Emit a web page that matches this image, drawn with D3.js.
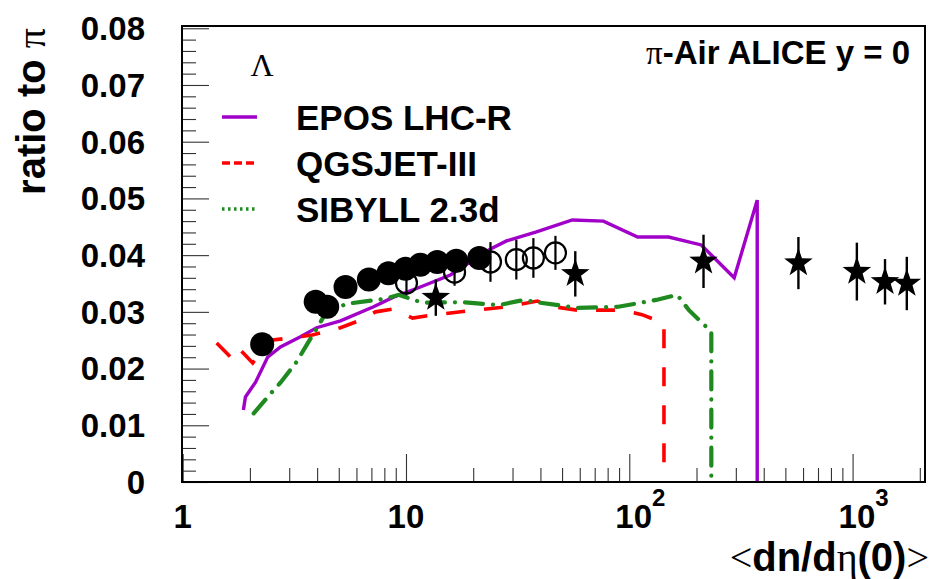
<!DOCTYPE html>
<html>
<head>
<meta charset="utf-8">
<script src="https://cdn.jsdelivr.net/npm/d3@7"></script>
<style>
  html, body { margin: 0; padding: 0; background: #fff; }
  svg { display: block; }
</style>
</head>
<body>
<svg id="chart" width="930" height="579"></svg>
<script>
// ---- model curves: Lambda / pi ratio vs <dn/deta(0)> ----
const eposMult  = [1.87, 1.91, 2.12, 2.40, 2.74, 3.37, 3.98, 5.09, 7.16, 8.79, 11.3, 15.8, 23.9, 28.2, 38.4, 55.6, 76.6, 109, 150, 210, 295, 374, 374];
const eposRatio = [0.0127, 0.0150, 0.0176, 0.0220, 0.0238, 0.0256, 0.0272, 0.0284, 0.0309, 0.0326, 0.0342, 0.0365, 0.0411, 0.0425, 0.0441, 0.0462, 0.0460, 0.0432, 0.0432, 0.0418, 0.0360, 0.0497, 0.0];

const qgsMult  = [1.42, 1.64, 1.76, 2.06, 2.48, 3.04, 3.81, 5.09, 6.13, 7.31, 8.79, 10.7, 12.9, 19.4, 28.5, 38.8, 44.3, 58.5, 93, 114, 143, 143];
const qgsRatio = [0.0245, 0.0220, 0.0238, 0.0210, 0.0250, 0.0254, 0.0259, 0.0272, 0.0284, 0.0300, 0.0305, 0.0289, 0.0294, 0.0302, 0.0309, 0.0319, 0.0310, 0.0303, 0.0303, 0.0295, 0.0280, 0.0];

const sibMult  = [2.08, 2.53, 2.74, 3.24, 3.66, 4.02, 4.27, 5.36, 8.10, 9.25, 11.9, 17.9, 26.2, 33.6, 40.0, 59.1, 89.3, 132, 164, 185, 233, 233];
const sibRatio = [0.0121, 0.0160, 0.0175, 0.0212, 0.0247, 0.0273, 0.0291, 0.0314, 0.0323, 0.0330, 0.0316, 0.0317, 0.0312, 0.0321, 0.0316, 0.0307, 0.0309, 0.0321, 0.0330, 0.0303, 0.0265, 0.0];

// ---- ALICE measurements ----
const filledMult  = [2.27, 3.94, 4.44, 5.36, 6.82, 8.35, 9.95, 11.6, 13.8, 16.8, 21.3];
const filledRatio = [0.0243, 0.0318, 0.0309, 0.0344, 0.0357, 0.0368, 0.0376, 0.0383, 0.0388, 0.0390, 0.0395];

const openMult  = [10.05, 16.5, 23.9, 31.2, 37.2, 46.7];
const openRatio = [0.0351, 0.0370, 0.0388, 0.0392, 0.0395, 0.0404];
const openErr   = [0.0022, 0.0024, 0.0035, 0.0035, 0.0035, 0.0030];

const starMult  = [13.6, 57.3, 215, 572, 1045, 1397, 1749];
const starRatio = [0.0325, 0.0367, 0.0389, 0.0386, 0.0371, 0.0353, 0.0350];
const starErr   = [0.0032, 0.0040, 0.0047, 0.0046, 0.0051, 0.0040, 0.0047];

// ---- axes ----
const yMajorTicks = [0, 0.01, 0.02, 0.03, 0.04, 0.05, 0.06, 0.07, 0.08];
const yTickLabels = ["0", "0.01", "0.02", "0.03", "0.04", "0.05", "0.06", "0.07", "0.08"];
const xMajorTicks = [1, 10, 100, 1000];
const xTickBase   = ["1", "10", "10", "10"];
const xTickExp    = ["", "", "2", "3"];

const legendNames = ["EPOS LHC-R", "QGSJET-III", "SIBYLL 2.3d"];

const W = 930, H = 579;
const frame = { left: 182, top: 26, right: 925, bottom: 482 };

const svg = d3.select("#chart");
svg.append("rect").attr("width", W).attr("height", H).attr("fill", "#fff");

const x = d3.scaleLog().domain([0.993, 2110]).range([frame.left, frame.right]);
const y = d3.scaleLinear().domain([0, 0.0804]).range([frame.bottom, frame.top]);

const SANS = "'Liberation Sans', Arial, Helvetica, sans-serif";
const SERIF = "'Liberation Serif', 'Times New Roman', serif";

// minor tick values
const yMinor = d3.range(0, 0.0801, 0.002).filter(v => Math.abs(v / 0.01 - Math.round(v / 0.01)) > 1e-6);
const xMinor = [];
[1, 10, 100, 1000].forEach(d => { for (let k = 2; k <= 9; k++) { const v = d * k; if (v <= 2100) xMinor.push(v); } });

// y axis ticks (pointing into the frame)
const yAxisG = svg.append("g").attr("transform", `translate(${frame.left},0)`);
yAxisG.call(d3.axisRight(y).tickValues(yMajorTicks).tickSize(27).tickFormat(""));
const yMinorG = svg.append("g").attr("transform", `translate(${frame.left},0)`);
yMinorG.call(d3.axisRight(y).tickValues(yMinor).tickSize(14).tickFormat(""));

// x axis ticks (pointing up into the frame)
const xAxisG = svg.append("g").attr("transform", `translate(0,${frame.bottom})`);
xAxisG.call(d3.axisTop(x).tickValues(xMajorTicks).tickSize(28).tickFormat(""));
const xMinorG = svg.append("g").attr("transform", `translate(0,${frame.bottom})`);
xMinorG.call(d3.axisTop(x).tickValues(xMinor).tickSize(14).tickFormat(""));

[yAxisG, yMinorG, xAxisG, xMinorG].forEach(g => {
  g.select(".domain").remove();
  g.selectAll(".tick line").attr("stroke", "#333").attr("stroke-width", 1.1);
});

// y tick labels
svg.append("g").selectAll("text").data(yMajorTicks).join("text")
  .attr("x", frame.left - 37)
  .attr("y", d => y(d))
  .attr("dy", "0.36em")
  .attr("text-anchor", "end")
  .attr("font-family", SANS).attr("font-weight", "bold").attr("font-size", 33)
  .attr("fill", "#000")
  .text((d, i) => yTickLabels[i]);

// x tick labels, with exponents raised
const xl = svg.append("g");
xMajorTicks.forEach((v, i) => {
  const t = xl.append("text")
    .attr("y", 528)
    .attr("font-family", SANS).attr("font-weight", "bold").attr("font-size", 33)
    .attr("fill", "#000");
  if (xTickExp[i] === "") {
    t.attr("x", x(v)).attr("text-anchor", "middle").text(xTickBase[i]);
  } else {
    t.attr("x", x(v) - 14).attr("text-anchor", "start");
    t.append("tspan").text(xTickBase[i]);
    t.append("tspan").attr("dy", -22).attr("font-size", 24).text(xTickExp[i]);
  }
});

// axis titles
const yTitle = svg.append("text")
  .attr("transform", `translate(45,28) rotate(-90)`)
  .attr("text-anchor", "end")
  .attr("font-family", SANS).attr("font-weight", "bold").attr("font-size", 40)
  .attr("fill", "#000");
yTitle.append("tspan").text("ratio to ");
yTitle.append("tspan").attr("font-family", SERIF).attr("font-weight", "normal").text("π");

const xTitle = svg.append("text")
  .attr("x", 929).attr("y", 571)
  .attr("text-anchor", "end")
  .attr("font-family", SANS).attr("font-weight", "bold").attr("font-size", 40)
  .attr("fill", "#000");
xTitle.append("tspan").attr("font-family", SERIF).attr("font-weight", "normal").text("<");
xTitle.append("tspan").text("dn/d");
xTitle.append("tspan").attr("font-family", SERIF).attr("font-weight", "normal").text("η");
xTitle.append("tspan").text("(0)");
xTitle.append("tspan").attr("font-family", SERIF).attr("font-weight", "normal").text(">");

// ---- model curves ----
const plot = svg.append("g");
const line = d3.line().x(d => x(d[0])).y(d => y(d[1]));

const curves = [
  { mult: eposMult, ratio: eposRatio, color: "#a000c8", width: 3.4, dash: null, cap: "butt" },
  { mult: qgsMult,  ratio: qgsRatio,  color: "#ff0000", width: 3.6, dash: "19 19", cap: "butt" },
  { mult: sibMult,  ratio: sibRatio,  color: "#1f8a1f", width: 4.2, dash: "18 10 0.1 10", cap: "round" }
];
curves.forEach(c => {
  plot.append("path")
    .datum(c.mult.map((m, i) => [m, c.ratio[i]]))
    .attr("d", line)
    .attr("fill", "none")
    .attr("stroke", c.color)
    .attr("stroke-width", c.width)
    .attr("stroke-linejoin", "miter")
    .attr("stroke-linecap", c.cap)
    .attr("stroke-dasharray", c.dash);
});

// ---- data points ----
const marks = svg.append("g");

// filled circles
marks.selectAll("circle.filled").data(filledMult).join("circle")
  .attr("class", "filled")
  .attr("cx", d => x(d))
  .attr("cy", (d, i) => y(filledRatio[i]))
  .attr("r", 12)
  .attr("fill", "#000");

// open circles with error bars
marks.selectAll("line.oerr").data(openMult).join("line")
  .attr("class", "oerr")
  .attr("x1", d => x(d)).attr("x2", d => x(d))
  .attr("y1", (d, i) => y(openRatio[i] - openErr[i]))
  .attr("y2", (d, i) => y(openRatio[i] + openErr[i]))
  .attr("stroke", "#000").attr("stroke-width", 2.2);
marks.selectAll("circle.open").data(openMult).join("circle")
  .attr("class", "open")
  .attr("cx", d => x(d))
  .attr("cy", (d, i) => y(openRatio[i]))
  .attr("r", 10.5)
  .attr("fill", "none")
  .attr("stroke", "#000").attr("stroke-width", 2.2);

// stars with error bars
function starPath(R, r) {
  const pts = [];
  for (let k = 0; k < 10; k++) {
    const a = -Math.PI / 2 + k * Math.PI / 5;
    const rad = k % 2 === 0 ? R : r;
    pts.push([rad * Math.cos(a), rad * Math.sin(a)]);
  }
  return "M" + pts.map(p => p[0].toFixed(2) + "," + p[1].toFixed(2)).join("L") + "Z";
}
marks.selectAll("line.serr").data(starMult).join("line")
  .attr("class", "serr")
  .attr("x1", d => x(d)).attr("x2", d => x(d))
  .attr("y1", (d, i) => y(starRatio[i] - starErr[i]))
  .attr("y2", (d, i) => y(starRatio[i] + starErr[i]))
  .attr("stroke", "#000").attr("stroke-width", 2.4);
marks.selectAll("path.star").data(starMult).join("path")
  .attr("class", "star")
  .attr("transform", (d, i) => `translate(${x(d)},${y(starRatio[i])})`)
  .attr("d", starPath(15, 6))
  .attr("fill", "#000");

// ---- frame ----
svg.append("rect")
  .attr("x", frame.left).attr("y", frame.top)
  .attr("width", frame.right - frame.left).attr("height", frame.bottom - frame.top)
  .attr("fill", "none").attr("stroke", "#000").attr("stroke-width", 2);

// ---- legend ----
svg.append("text")
  .attr("x", 262).attr("y", 76)
  .attr("text-anchor", "middle")
  .attr("font-family", SERIF).attr("font-size", 32)
  .attr("fill", "#000")
  .text("Λ");

const legendStyles = [
  { color: "#a000c8", dash: null, width: 3.4 },
  { color: "#ff0000", dash: "8 4", width: 3.4 },
  { color: "#1f8a1f", dash: "2.5 3.5", width: 3.4 }
];
const legendY = [117, 163, 209];
legendNames.forEach((name, i) => {
  svg.append("line")
    .attr("x1", 222).attr("x2", 257)
    .attr("y1", legendY[i]).attr("y2", legendY[i])
    .attr("stroke", legendStyles[i].color)
    .attr("stroke-width", legendStyles[i].width)
    .attr("stroke-dasharray", legendStyles[i].dash);
  svg.append("text")
    .attr("x", 296).attr("y", legendY[i])
    .attr("dy", "0.36em")
    .attr("font-family", SANS).attr("font-weight", "bold").attr("font-size", 35)
    .attr("fill", "#000")
    .text(name);
});

// system label
const sys = svg.append("text")
  .attr("x", 910).attr("y", 64)
  .attr("text-anchor", "end")
  .attr("font-family", SANS).attr("font-weight", "bold").attr("font-size", 33)
  .attr("fill", "#000");
sys.append("tspan").attr("font-family", SERIF).attr("font-weight", "normal").text("π");
sys.append("tspan").text("-Air ALICE y = 0");
</script>
</body>
</html>
